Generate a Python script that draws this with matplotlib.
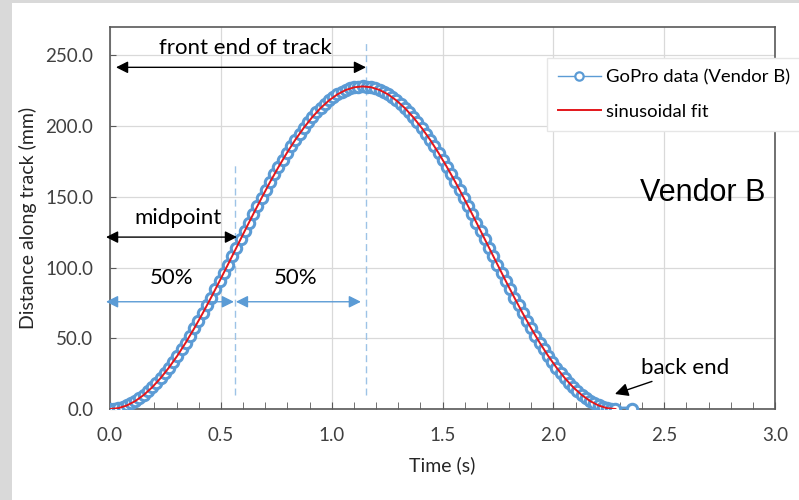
import numpy as np
import matplotlib
matplotlib.use("Agg")
import matplotlib.pyplot as plt
from matplotlib.patches import Rectangle
from matplotlib.ticker import MultipleLocator, FormatStrFormatter

plt.rcParams['font.family'] = ['Lato', 'DejaVu Sans']

# GoPro track position, one reading per frame
FRAME_DT = 0.019  # s
gopro_mm = [
    0.0, 0.2, 0.6, 1.4, 2.5, 3.9, 5.6, 7.6, 9.9, 12.4, 15.3, 18.4, 21.8, 25.4, 29.3,
    33.4, 37.7, 42.3, 47.0, 51.9, 57.0, 62.3, 67.6, 73.2, 78.8, 84.5, 90.3, 96.2,
    102.1, 108.0, 114.0, 120.0, 125.9, 131.8, 137.7, 143.5, 149.2, 154.9, 160.4,
    165.8, 171.0, 176.1, 181.0, 185.7, 190.3, 194.6, 198.7, 202.6, 206.2, 209.6,
    212.7, 215.6, 218.1, 220.4, 222.4, 224.1, 225.5, 226.6, 227.4, 227.8, 228.0,
    227.8, 227.4, 226.6, 225.5, 224.1, 222.4, 220.4, 218.1, 215.6, 212.7, 209.6,
    206.2, 202.6, 198.7, 194.6, 190.3, 185.7, 181.0, 176.1, 171.0, 165.8, 160.4,
    154.9, 149.2, 143.5, 137.7, 131.8, 125.9, 120.0, 114.0, 108.0, 102.1, 96.2,
    90.3, 84.5, 78.8, 73.2, 67.6, 62.3, 57.0, 51.9, 47.0, 42.3, 37.7, 33.4, 29.3,
    25.4, 21.8, 18.4, 15.3, 12.4, 9.9, 7.6, 5.6, 3.9, 2.5, 1.4, 0.6, 0.2, 0.0,
]
# last frame after the cart stopped
tail_t = [2.355]
tail_mm = [0.0]

# sinusoidal fit evaluated every other frame
FIT_DT = 0.038  # s
fit_mm = [
    0.0, 0.6, 2.5, 5.6, 9.9, 15.3, 21.8, 29.3, 37.7, 47.0, 57.0, 67.6, 78.8, 90.3,
    102.1, 114.0, 125.9, 137.7, 149.2, 160.4, 171.0, 181.0, 190.3, 198.7, 206.2,
    212.7, 218.1, 222.4, 225.5, 227.4, 228.0, 227.4, 225.5, 222.4, 218.1, 212.7,
    206.2, 198.7, 190.3, 181.0, 171.0, 160.4, 149.2, 137.7, 125.9, 114.0, 102.1,
    90.3, 78.8, 67.6, 57.0, 47.0, 37.7, 29.3, 21.8, 15.3, 9.9, 5.6, 2.5, 0.6, 0.0,
]

t_mid = 0.564    # s, half way to the front end
t_front = 1.155  # s, front end of track

gopro_t = np.concatenate([np.arange(len(gopro_mm)) * FRAME_DT, tail_t])
gopro_d = np.concatenate([gopro_mm, tail_mm])
fit_t = np.arange(len(fit_mm)) * FIT_DT

BLUE = '#5b9bd5'
DASH = '#9dc3e6'
AXC = '#595959'
NOTE_FS = 16

fig = plt.figure(figsize=(7.99, 5.0), dpi=100)
fig.patch.set_facecolor('#d9d9d9')
fig.patches.append(Rectangle((12 / 799, 0), 1, 1 - 3 / 500, transform=fig.transFigure,
                             facecolor='white', edgecolor='none', zorder=-10))

ax = fig.add_axes([110 / 799, 91 / 500, 665 / 799, 382 / 500])
ax.set_xlim(0, 3.0)
ax.set_ylim(0, 270)

# thick connector so the dense markers read as one band
ax.plot(gopro_t, gopro_d, color=BLUE, lw=3.5, marker='o', ms=7.5, mfc='white',
        mec=BLUE, mew=2.2, label='GoPro data (Vendor B)', zorder=3)
ax.plot(fit_t, fit_mm, color='#e3161b', lw=1.4, label='sinusoidal fit', zorder=4)

# reference lines at the midpoint and the front end
ax.plot([t_mid, t_mid], [9.9, 172.3], ls=(0, (5, 3)), color=DASH, lw=1.0, zorder=2)
ax.plot([t_front, t_front], [9.9, 258.5], ls=(0, (5, 3)), color=DASH, lw=1.0, zorder=2)

black_arrow = dict(arrowstyle='<|-|>', color='black', lw=1.0, mutation_scale=18,
                   shrinkA=0, shrinkB=0)
blue_arrow = dict(arrowstyle='<|-|>', color=BLUE, lw=1.0, mutation_scale=18,
                  shrinkA=0, shrinkB=0)

ax.annotate('', xy=(0.027, 241.5), xytext=(t_front, 241.5), arrowprops=black_arrow,
            annotation_clip=False)
ax.text(0.61, 255.5, 'front end of track', ha='center', va='center', fontsize=NOTE_FS)

ax.annotate('', xy=(-0.018, 121.5), xytext=(0.573, 121.5), arrowprops=black_arrow,
            annotation_clip=False)
ax.text(0.307, 135, 'midpoint', ha='center', va='center', fontsize=NOTE_FS)

ax.annotate('', xy=(-0.018, 75.8), xytext=(0.559, 75.8), arrowprops=blue_arrow,
            annotation_clip=False)
ax.annotate('', xy=(0.568, 75.8), xytext=(1.132, 75.8), arrowprops=blue_arrow,
            annotation_clip=False)
ax.text(0.28, 92.5, '50%', ha='center', va='center', fontsize=NOTE_FS)
ax.text(0.839, 92.5, '50%', ha='center', va='center', fontsize=NOTE_FS)

ax.text(2.594, 29, 'back end', ha='center', va='center', fontsize=NOTE_FS)
ax.annotate('', xy=(2.278, 10.6), xytext=(2.445, 19.5),
            arrowprops=dict(arrowstyle='-|>', color='black', lw=1.0, mutation_scale=20,
                            shrinkA=0, shrinkB=0))

ax.text(2.675, 152.5, 'Vendor B', ha='center', va='center', fontsize=22,
        family='Liberation Sans')

# axes styling
ax.xaxis.set_major_locator(MultipleLocator(0.5))
ax.xaxis.set_minor_locator(MultipleLocator(0.1))
ax.yaxis.set_major_locator(MultipleLocator(50))
ax.xaxis.set_major_formatter(FormatStrFormatter('%.1f'))
ax.yaxis.set_major_formatter(FormatStrFormatter('%.1f'))
ax.tick_params(axis='both', which='both', direction='in', color=AXC, labelcolor='#404040',
               labelsize=13.5)
ax.tick_params(axis='x', which='major', length=5, pad=13)
ax.tick_params(axis='x', which='minor', length=5)
ax.tick_params(axis='y', which='major', length=4, pad=12)
ax.grid(True, which='major', color='#d9d9d9', lw=0.9)
ax.set_axisbelow(True)
for s in ax.spines.values():
    s.set_color(AXC)
    s.set_linewidth(1.2)

ax.set_xlabel('Time (s)', fontsize=14, color='#262626', labelpad=9)
ax.set_ylabel('Distance along track (mm)', fontsize=14, color='#262626', labelpad=6)

leg = ax.legend(loc='upper left', bbox_to_anchor=(547 / 799, 1 - 58 / 500),
                bbox_transform=fig.transFigure, borderaxespad=0, frameon=True,
                fancybox=False, fontsize=13.3, handlelength=2.3, handletextpad=0.3,
                labelspacing=1.0, borderpad=0.6, framealpha=1)
leg.get_frame().set_edgecolor('#e6e6e6')
leg.get_frame().set_linewidth(1.0)
leg.set_zorder(10)
data_handle, fit_handle = leg.get_lines()
data_handle.set_linewidth(1.0)
data_handle.set_markersize(6)
data_handle.set_markeredgewidth(1.6)

fig.savefig('out.png', dpi=100, facecolor=fig.get_facecolor())
